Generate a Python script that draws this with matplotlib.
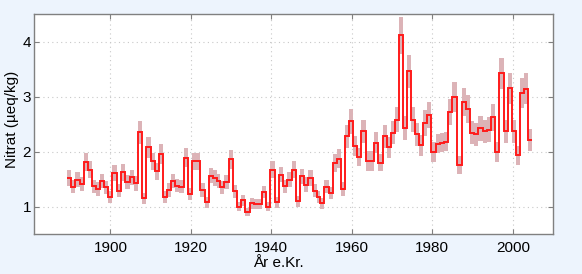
import matplotlib
matplotlib.use("Agg")
import matplotlib.pyplot as plt
import numpy as np

# segment start years and final end year
years = [1889.2, 1890.3, 1891.3, 1892.4, 1893.4, 1894.4, 1895.4, 1896.4, 1897.3, 1898.3,
         1899.4, 1900.5, 1901.6, 1902.7, 1903.7, 1904.8, 1905.8, 1906.8, 1907.9, 1908.9,
         1910.0, 1911.0, 1912.0, 1913.1, 1914.1, 1915.1, 1916.1, 1917.1, 1918.2, 1919.2,
         1920.3, 1922.3, 1923.4, 1924.4, 1925.5, 1926.5, 1927.3, 1928.3, 1929.4, 1930.4,
         1931.4, 1932.5, 1933.5, 1934.6, 1935.6, 1936.6, 1937.7, 1938.7, 1939.7, 1940.8,
         1941.8, 1942.8, 1943.9, 1945.1, 1946.1, 1947.2, 1948.2, 1949.2, 1950.3, 1951.3,
         1952.2, 1953.2, 1954.2, 1955.2, 1956.3, 1957.3, 1958.3, 1959.4, 1960.4, 1961.4,
         1962.4, 1963.5, 1964.5, 1965.6, 1966.6, 1967.8, 1968.8, 1969.8, 1970.8, 1971.8,
         1972.8, 1973.8, 1974.8, 1975.8, 1976.7, 1977.8, 1978.8, 1979.8, 1980.9, 1981.9,
         1982.9, 1984.0, 1985.0, 1986.2, 1987.3, 1988.3, 1989.3, 1990.4, 1991.4, 1992.5,
         1993.5, 1994.5, 1995.6, 1996.6, 1997.7, 1998.7, 1999.8, 2000.7, 2001.8, 2002.8,
         2003.8]
end_year = 2004.9

nitrate = [1.52, 1.36, 1.49, 1.41, 1.81, 1.67, 1.37, 1.32, 1.46, 1.35,
           1.18, 1.61, 1.29, 1.62, 1.44, 1.53, 1.42, 2.35, 1.15, 2.08,
           1.82, 1.64, 1.96, 1.17, 1.30, 1.46, 1.38, 1.36, 1.89, 1.23,
           1.82, 1.30, 1.08, 1.56, 1.52, 1.46, 1.35, 1.44, 1.86, 1.28,
           1.00, 1.11, 0.90, 1.06, 1.05, 1.04, 1.26, 1.00, 1.67, 1.08,
           1.58, 1.37, 1.49, 1.67, 1.10, 1.55, 1.40, 1.52, 1.29, 1.18,
           1.06, 1.36, 1.24, 1.79, 1.87, 1.32, 2.28, 2.55, 2.10, 1.90,
           2.37, 1.83, 1.83, 2.16, 1.80, 2.28, 2.08, 2.34, 2.58, 4.11,
           2.43, 3.46, 2.58, 2.31, 2.11, 2.52, 2.66, 1.99, 2.14, 2.16,
           2.18, 2.72, 2.99, 1.75, 2.90, 2.77, 2.34, 2.31, 2.42, 2.37,
           2.40, 2.62, 1.99, 3.42, 2.37, 3.15, 2.37, 1.93, 3.06, 3.14,
           2.21]

uncert = [0.14, 0.12, 0.13, 0.13, 0.16, 0.15, 0.12, 0.12, 0.13, 0.12,
          0.11, 0.14, 0.12, 0.15, 0.13, 0.14, 0.13, 0.21, 0.10, 0.19,
          0.16, 0.15, 0.18, 0.11, 0.12, 0.13, 0.12, 0.12, 0.17, 0.11,
          0.16, 0.12, 0.10, 0.14, 0.14, 0.13, 0.12, 0.13, 0.17, 0.12,
          0.09, 0.10, 0.08, 0.10, 0.09, 0.09, 0.11, 0.09, 0.15, 0.10,
          0.14, 0.12, 0.13, 0.15, 0.10, 0.14, 0.13, 0.14, 0.12, 0.11,
          0.10, 0.12, 0.11, 0.16, 0.17, 0.12, 0.21, 0.23, 0.19, 0.17,
          0.21, 0.18, 0.18, 0.19, 0.16, 0.21, 0.19, 0.21, 0.23, 0.34,
          0.22, 0.30, 0.23, 0.21, 0.19, 0.23, 0.24, 0.18, 0.17, 0.17,
          0.17, 0.24, 0.27, 0.16, 0.26, 0.25, 0.21, 0.21, 0.22, 0.21,
          0.22, 0.24, 0.18, 0.28, 0.21, 0.28, 0.21, 0.17, 0.27, 0.28,
          0.20]

x_ticks = [1900, 1920, 1940, 1960, 1980, 2000]
y_ticks = [1, 2, 3, 4]

plt.rcParams['font.family'] = ['Liberation Sans', 'DejaVu Sans']

fig = plt.figure(figsize=(5.82, 2.74), dpi=100)
fig.patch.set_facecolor('#edf4fd')
ax = fig.add_axes([34/582, 1-234/274, (553-34)/582, (234-14)/274])
ax.set_facecolor('white')

edges = np.array(years + [end_year])
vals = np.array(nitrate)
err = np.array(uncert)

ax.stairs(vals + err, edges, baseline=vals - err, fill=True,
          color='#dcb3b7', linewidth=0, zorder=2)
ax.stairs(vals, edges, baseline=None, color='#ff1a1a', linewidth=1.4, zorder=3)

ax.set_xlim(1881, 2010)
ax.set_ylim(0.5, 4.5)
ax.set_xticks(x_ticks)
ax.set_yticks(y_ticks)
ax.grid(True, linestyle=(0, (1, 3)), color='#c8c8c8', linewidth=0.8, zorder=0)
ax.tick_params(direction='in', top=True, right=True, length=3.5, width=0.8,
               colors='#808080', labelcolor='black', labelsize=11)
ax.tick_params(axis='x', pad=5)
ax.tick_params(axis='y', pad=2)
for s in ax.spines.values():
    s.set_color('#808080')
    s.set_linewidth(1.0)

fig.text(278/582, 1-263/274, 'År e.Kr.', ha='center', va='center', fontsize=11)
fig.text(12/582, 1-119/274, 'Nitrat (µeq/kg)', ha='center', va='center',
         rotation=90, fontsize=11)

fig.savefig('out.png', dpi=100, facecolor=fig.get_facecolor())
